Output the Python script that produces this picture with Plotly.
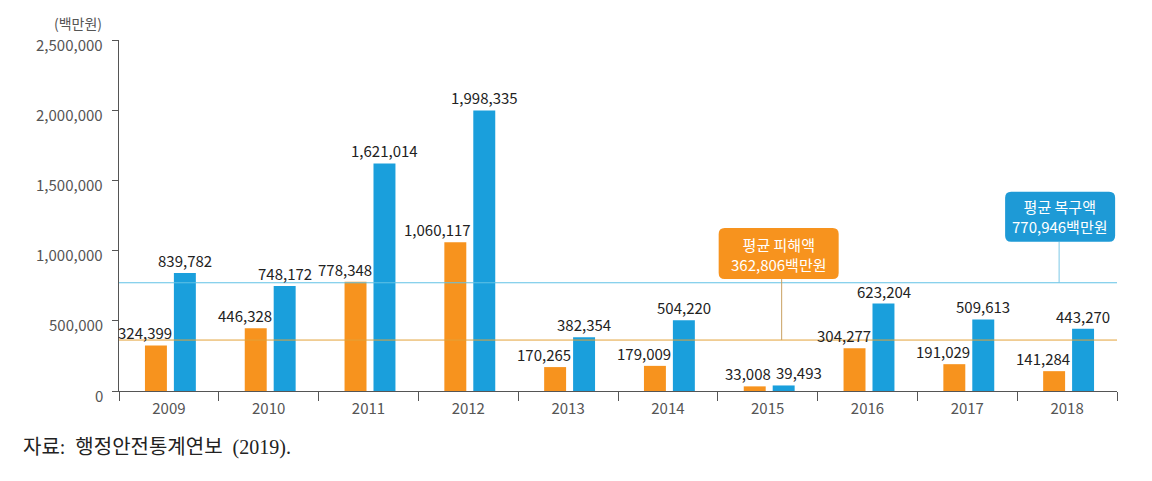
import plotly.graph_objects as go

years = ["2009", "2010", "2011", "2012", "2013", "2014", "2015", "2016", "2017", "2018"]
damage = [324399, 446328, 778348, 1060117, 170265, 179009, 33008, 304277, 191029, 141284]
recovery = [839782, 748172, 1621014, 1998335, 382354, 504220, 39493, 623204, 509613, 443270]
avg_damage = 362806
avg_recovery = 770946
y_ticks = [0, 500000, 1000000, 1500000, 2000000, 2500000]
y_tick_text = ["0", "500,000", "1,000,000", "1,500,000", "2,000,000", "2,500,000"]
unit_label = "(백만원)"
source_label = "자료:  행정안전통계연보  (2019)."
damage_box = ["평균 피해액", "362,806백만원"]
recovery_box = ["평균 복구액", "770,946백만원"]

ORANGE = "#F7931E"
BLUE = "#1A9FDC"
FONT = "Noto Sans CJK KR, Noto Sans, sans-serif"

fig = go.Figure()
fig.add_trace(go.Bar(x=years, y=damage, marker_color=ORANGE, offset=-0.24, width=0.22,
                     marker_line_width=0, hoverinfo="skip"))
fig.add_trace(go.Bar(x=years, y=recovery, marker_color=BLUE, offset=0.05, width=0.22,
                     marker_line_width=0, hoverinfo="skip"))

annotations = []
for i, v in enumerate(damage):
    annotations.append(dict(x=i, y=v, xref="x", yref="y", text=f"{v:,}", showarrow=False,
                            xanchor="right", yanchor="bottom", xshift=5, yshift=0,
                            font=dict(family=FONT, size=15, color="#222")))
for i, v in enumerate(recovery):
    extra = 15 if v < 100000 else 0
    annotations.append(dict(x=i, y=v, xref="x", yref="y", text=f"{v:,}", showarrow=False,
                            xanchor="center", yanchor="bottom", xshift=16 + extra, yshift=0,
                            font=dict(family=FONT, size=15, color="#222")))

# y-axis tick labels (placed through the y scale, slightly below their ticks as in the source)
for tv, tt in zip(y_ticks, y_tick_text):
    annotations.append(dict(x=0, y=tv, xref="paper", yref="y", text=tt, showarrow=False,
                            xanchor="right", yanchor="middle", xshift=-14, yshift=-4,
                            font=dict(family=FONT, size=15, color="#555")))

# average lines
shapes = [
    dict(type="line", xref="paper", yref="y", x0=0, x1=1, y0=avg_recovery, y1=avg_recovery,
         line=dict(color="#62C2E6", width=1), layer="above"),
    dict(type="line", xref="paper", yref="y", x0=0, x1=1, y0=avg_damage, y1=avg_damage,
         line=dict(color="#E3A23A", width=1), layer="above"),
]


def rounded(x0, x1, y0, y1, r):
    return (f"M {x0+r},{y0} L {x1-r},{y0} Q {x1},{y0} {x1},{y0+r} "
            f"L {x1},{y1-r} Q {x1},{y1} {x1-r},{y1} L {x0+r},{y1} "
            f"Q {x0},{y1} {x0},{y1-r} L {x0},{y0+r} Q {x0},{y0} {x0+r},{y0} Z")


# damage callout
dmg_x = 6.14
shapes.append(dict(type="line", xref="x", yref="y", xsizemode="pixel", ysizemode="pixel",
                   xanchor=dmg_x, yanchor=avg_damage, x0=0, x1=0, y0=0, y1=61,
                   line=dict(color="#C9A160", width=1), layer="above"))
shapes.append(dict(type="path", xref="x", yref="y", xsizemode="pixel", ysizemode="pixel",
                   xanchor=dmg_x, yanchor=avg_damage, path=rounded(-63, 57, 61, 112, 6),
                   fillcolor=ORANGE, line=dict(width=0), layer="above"))
annotations.append(dict(x=dmg_x, y=avg_damage, xref="x", yref="y", showarrow=False,
                        text="<br>".join(damage_box), xshift=-3, yshift=86,
                        xanchor="center", yanchor="middle", align="center",
                        font=dict(family=FONT, size=15, color="white")))

# recovery callout
rec_x = 8.92
shapes.append(dict(type="line", xref="x", yref="y", xsizemode="pixel", ysizemode="pixel",
                   xanchor=rec_x, yanchor=avg_recovery, x0=0, x1=0, y0=0, y1=41,
                   line=dict(color="#7CC8E6", width=1), layer="above"))
shapes.append(dict(type="path", xref="x", yref="y", xsizemode="pixel", ysizemode="pixel",
                   xanchor=rec_x, yanchor=avg_recovery, path=rounded(-54, 56, 41, 91, 6),
                   fillcolor="#1E9AD6", line=dict(width=0), layer="above"))
annotations.append(dict(x=rec_x, y=avg_recovery, xref="x", yref="y", showarrow=False,
                        text="<br>".join(recovery_box), xshift=1, yshift=66,
                        xanchor="center", yanchor="middle", align="center",
                        font=dict(family=FONT, size=15, color="white")))

annotations.append(dict(x=0, y=1, xref="paper", yref="paper", text=unit_label, showarrow=False,
                        xanchor="right", yanchor="middle", xshift=-15, yshift=17,
                        font=dict(family=FONT, size=14, color="#555")))
annotations.append(dict(x=0, y=0, xref="paper", yref="paper", text=source_label, showarrow=False,
                        xanchor="left", yanchor="middle", xshift=-98, yshift=-56,
                        font=dict(family="Liberation Serif, Noto Sans CJK KR, serif", size=20,
                                  color="#222")))

fig.update_layout(
    width=1144, height=473,
    margin=dict(l=111, r=35, t=32, b=90),
    plot_bgcolor="white", paper_bgcolor="white",
    showlegend=False, barmode="overlay",
    shapes=shapes, annotations=annotations,
    xaxis=dict(type="category", tickson="boundaries", ticks="outside", ticklen=9,
               tickcolor="#555", showline=True, linecolor="#555", linewidth=1,
               showgrid=False, zeroline=False, ticklabelstandoff=4,
               tickfont=dict(family=FONT, size=15, color="#555"), range=[-0.5, 9.5]),
    yaxis=dict(range=[0, 2500000], tickvals=y_ticks, showticklabels=False,
               ticks="outside", ticklen=6, tickcolor="#555", showline=True,
               linecolor="#555", linewidth=1, showgrid=False, zeroline=False),
)

fig.write_html("out.html")
